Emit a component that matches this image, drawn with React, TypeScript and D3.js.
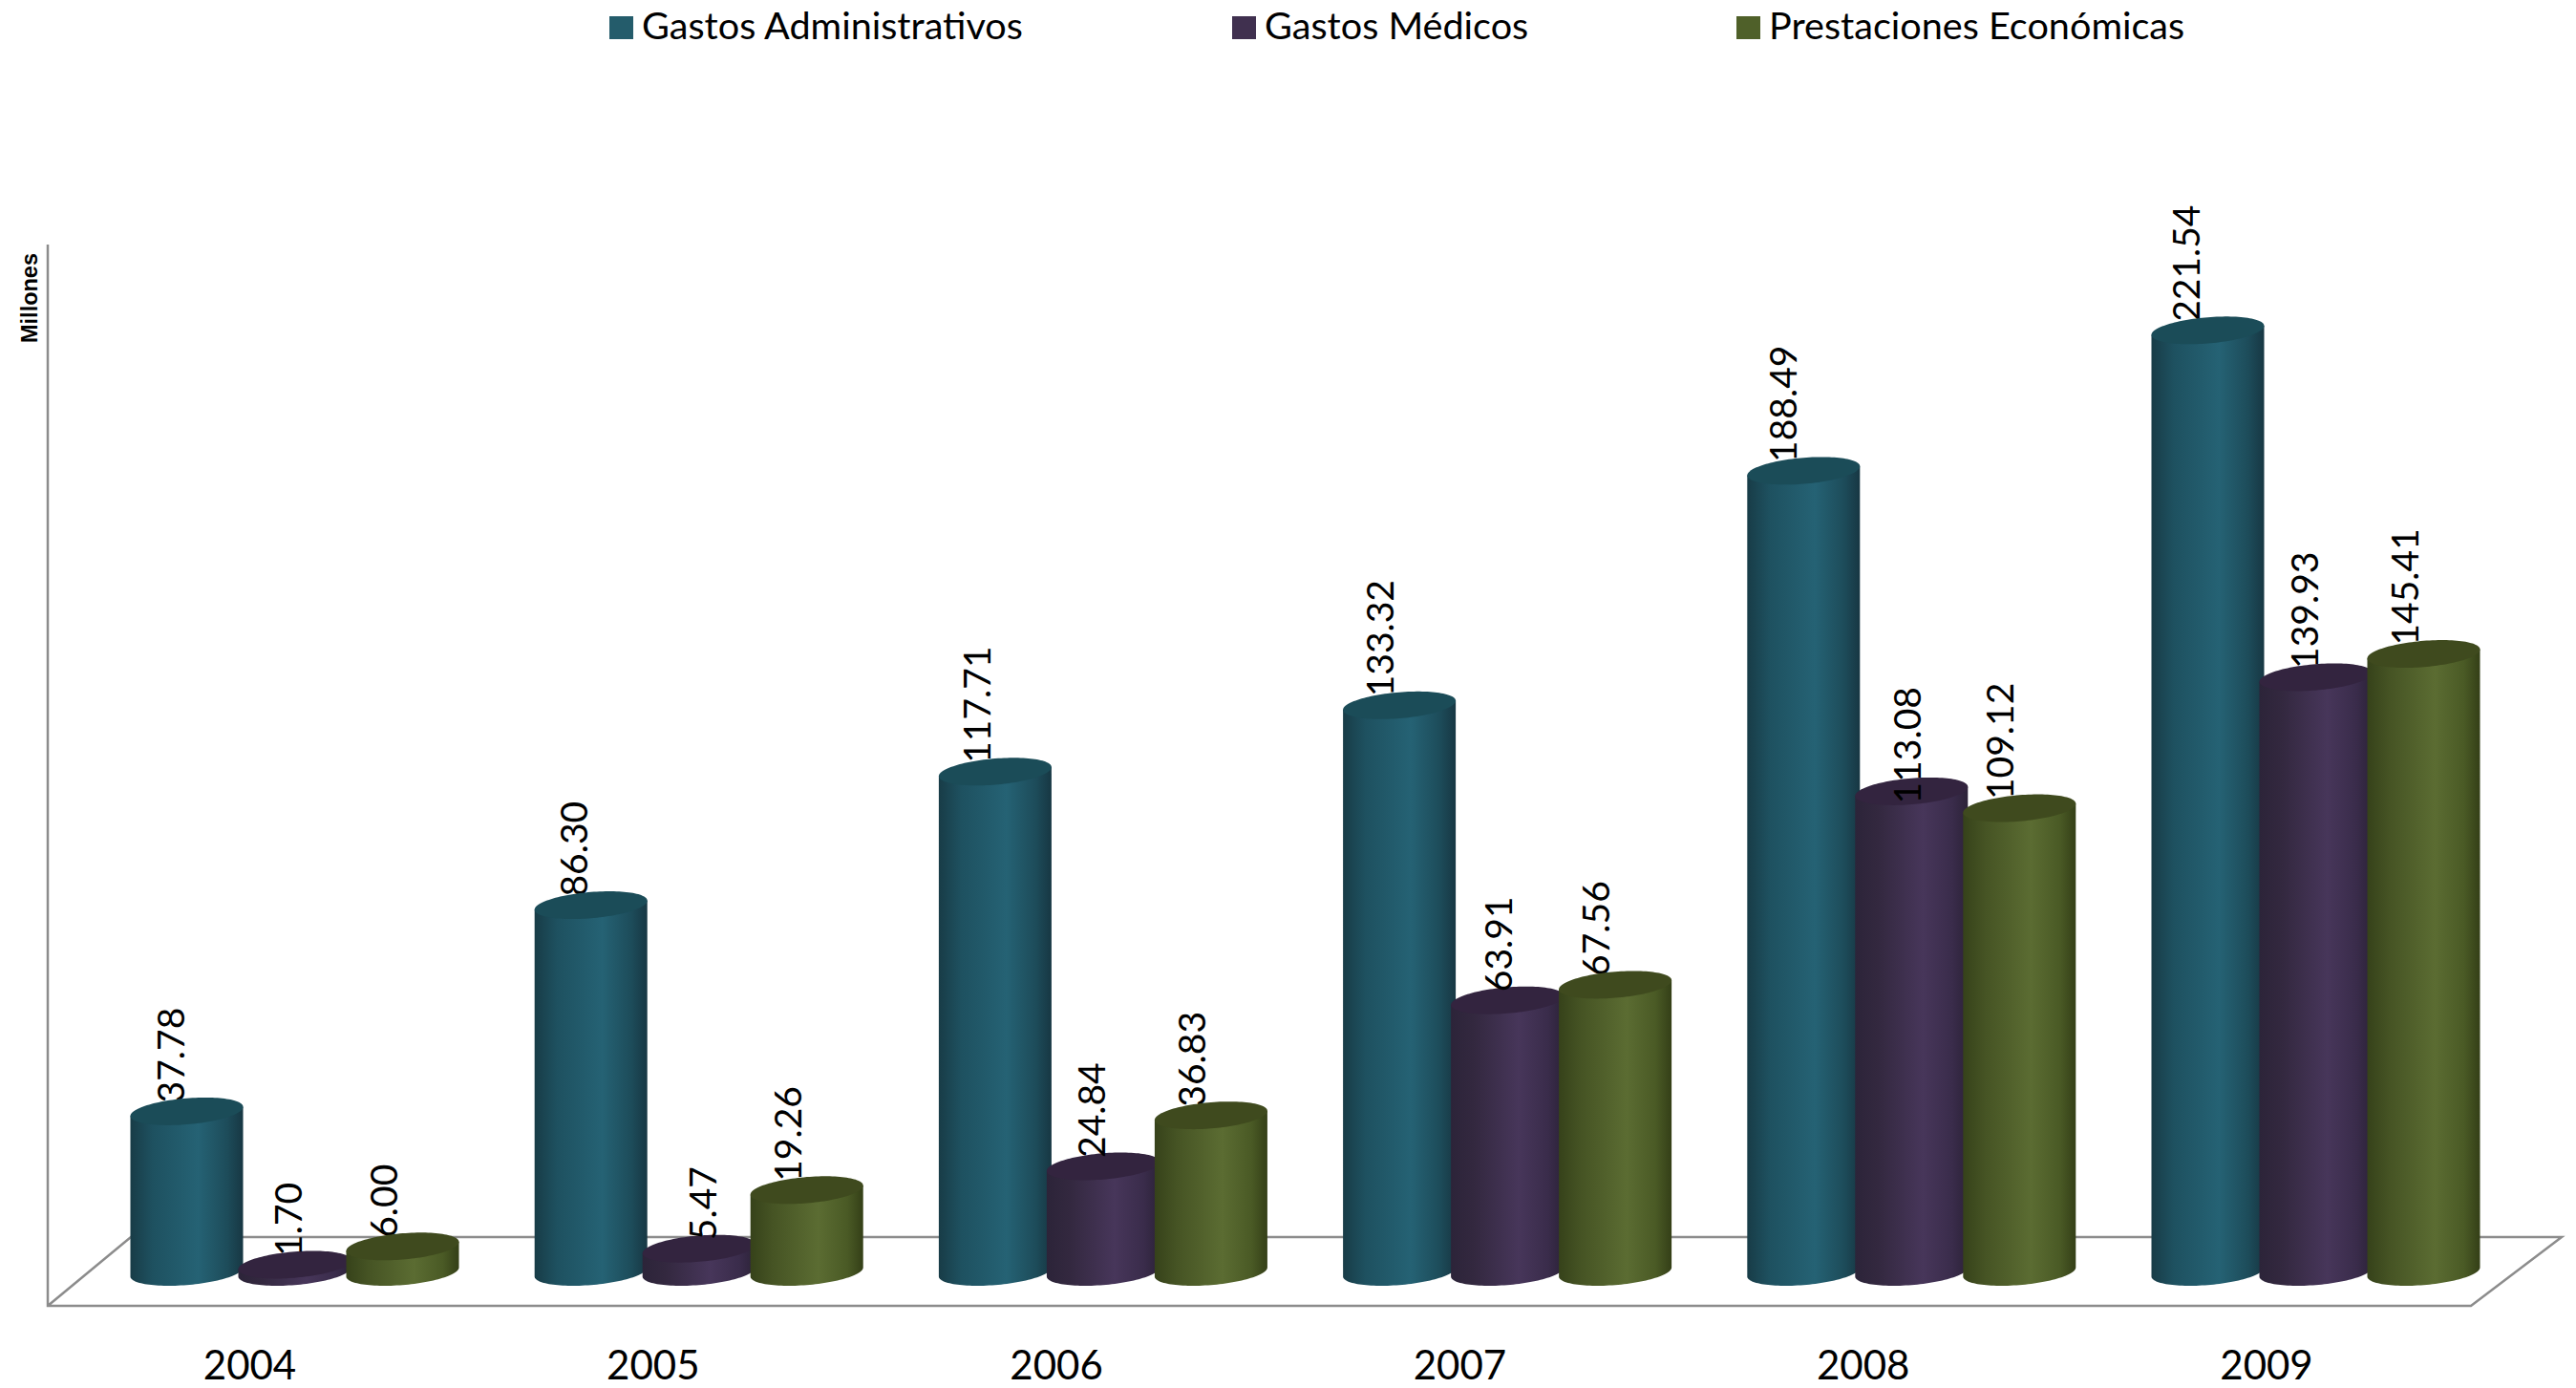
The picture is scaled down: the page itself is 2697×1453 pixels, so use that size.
import React from 'react';
import * as d3 from 'd3';

const years = ['2004', '2005', '2006', '2007', '2008', '2009'];
const seriesNames = ['Gastos Administrativos', 'Gastos Médicos', 'Prestaciones Económicas'];
const gastosAdministrativos = [37.78, 86.3, 117.71, 133.32, 188.49, 221.54];
const gastosMedicos = [1.7, 5.47, 24.84, 63.91, 113.08, 139.93];
const prestacionesEconomicas = [6.0, 19.26, 36.83, 67.56, 109.12, 145.41];
const seriesValues = [gastosAdministrativos, gastosMedicos, prestacionesEconomicas];

const WIDTH = 2697;
const HEIGHT = 1453;
const FONT = 'Lato, sans-serif';

const floorFront = 1367;
const floorBack = 1295;
const axisX = 50;
const RX = 59;
const RY = 13.7;
const SHEAR = 0.08;

const palette = [
  { key: 'teal', legend: '#245c6b', top: '#1b4c58', stops: ['#183c47', '#1e5160', '#256274', '#1d4c5a', '#173743'] },
  { key: 'purple', legend: '#40304f', top: '#33243f', stops: ['#2c2439', '#33283f', '#47365a', '#3a2c4b', '#2c2238'] },
  { key: 'olive', legend: '#4f6029', top: '#3f4a1e', stops: ['#36421a', '#465424', '#5b6c32', '#4a5a25', '#343f17'] },
];
const stopOffsets = [0, 0.2, 0.6, 0.86, 1];

const x = d3.scalePoint<string>().domain(years).range([308, 2424]);
const yearX = d3.scalePoint<string>().domain(years).range([261.5, 2373]);
const y = d3.scaleLinear().domain([0, 240]).range([1331.5, 263.7]);
const seriesOffset = d3.scalePoint<number>().domain([0, 1, 2]).range([-112.5, 113.5]);

const lineGen = d3.line<[number, number]>().curve(d3.curveLinear);
const rimPoint = (cx: number, cy: number, t: number): [number, number] => {
  const dx = RX * Math.cos(t);
  return [cx + dx, cy - SHEAR * dx + RY * Math.sin(t)];
};
const sweep = d3.range(0, 61).map((i) => (i / 60) * Math.PI);

function Cylinder({ cx, value, series }: { cx: number; value: number; series: number }) {
  const topY = y(value);
  const baseY = y(0);
  // body: down the right edge, round the front of the base, up the left edge
  const body = [...sweep.map((t) => rimPoint(cx, baseY, t)), rimPoint(cx, topY, Math.PI), rimPoint(cx, topY, 0)];
  const cap = [...sweep.map((t) => rimPoint(cx, topY, t)), ...sweep.map((t) => rimPoint(cx, topY, t + Math.PI))];
  return (
    <g>
      <path d={lineGen(body) + 'Z'} fill={`url(#grad-${palette[series].key})`} />
      <path d={lineGen(cap) + 'Z'} fill={palette[series].top} />
    </g>
  );
}

// the purple labels were placed by hand in the original, so each has its own shift
const purpleLabelShift = [-7, 4, -12, -9, -4, -12];

function ValueLabel({ cx, value, series, index }: { cx: number; value: number; series: number; index: number }) {
  // teal labels drift left across the chart in the reference
  const dx = series === 1 ? purpleLabelShift[index] : series === 2 ? -20 : -17 - index * 1.2;
  // the 113.08 label sits lower than the others in the reference
  const dy = value === 113.08 ? 13 : -9;
  return (
    <text
      transform={`translate(${cx + dx + 14},${y(value) + dy}) rotate(-90)`}
      fontFamily={FONT}
      fontSize={39}
      fill="#000"
    >
      {value.toFixed(2)}
    </text>
  );
}

export default function App() {
  const legendX = [638, 1290, 1818];
  const axisColor = '#8c8c8c';

  const seriesLayer = (series: number) =>
    years.map((year, i) => ({
      year,
      index: i,
      cx: (x(year) as number) + (seriesOffset(series) as number),
      value: seriesValues[series][i],
    }));

  return (
    <svg
      width={WIDTH}
      height={HEIGHT}
      style={{ position: 'absolute', left: 0, top: 0, background: '#fff' }}
    >
      <defs>
        {palette.map((p) => (
          <linearGradient key={p.key} id={`grad-${p.key}`} x1="0" x2="1" y1="0" y2="0">
            {p.stops.map((c, i) => (
              <stop key={i} offset={stopOffsets[i]} stopColor={c} />
            ))}
          </linearGradient>
        ))}
      </defs>

      {/* legend */}
      {seriesNames.map((name, i) => (
        <g key={name}>
          <rect x={legendX[i]} y={17} width={25} height={24} fill={palette[i].legend} />
          <text x={legendX[i] + 34} y={41} fontFamily={FONT} fontSize={39.6} fill="#000">
            {name}
          </text>
        </g>
      ))}

      {/* axis title */}
      <text
        transform={`translate(39,359) rotate(-90)`}
        fontFamily="'Liberation Sans', sans-serif"
        fontWeight="bold"
        fontSize={23.5}
        fill="#000"
      >
        Millones
      </text>

      {/* wall and floor */}
      <g fill="none" stroke={axisColor} strokeWidth={2.5}>
        <path
          d={
            lineGen([
              [axisX, 256],
              [axisX, floorFront],
              [2587, floorFront],
              [2682, floorBack],
              [137, floorBack],
              [axisX, floorFront],
            ]) as string
          }
        />
      </g>

      {/* teal labels sit behind their cylinders, purple in front, olive behind */}
      {seriesLayer(0).map((d) => (
        <ValueLabel key={d.year} cx={d.cx} value={d.value} series={0} index={d.index} />
      ))}
      {seriesLayer(0).map((d) => (
        <Cylinder key={d.year} cx={d.cx} value={d.value} series={0} />
      ))}
      {seriesLayer(1).map((d) => (
        <Cylinder key={d.year} cx={d.cx} value={d.value} series={1} />
      ))}
      {seriesLayer(1).map((d) => (
        <ValueLabel key={d.year} cx={d.cx} value={d.value} series={1} index={d.index} />
      ))}
      {seriesLayer(2).map((d) => (
        <ValueLabel key={d.year} cx={d.cx} value={d.value} series={2} index={d.index} />
      ))}
      {seriesLayer(2).map((d) => (
        <Cylinder key={d.year} cx={d.cx} value={d.value} series={2} />
      ))}

      {/* year labels */}
      {years.map((year) => (
        <text
          key={year}
          x={yearX(year) as number}
          y={1444}
          textAnchor="middle"
          fontFamily={FONT}
          fontSize={42}
          fill="#000"
        >
          {year}
        </text>
      ))}
    </svg>
  );
}
